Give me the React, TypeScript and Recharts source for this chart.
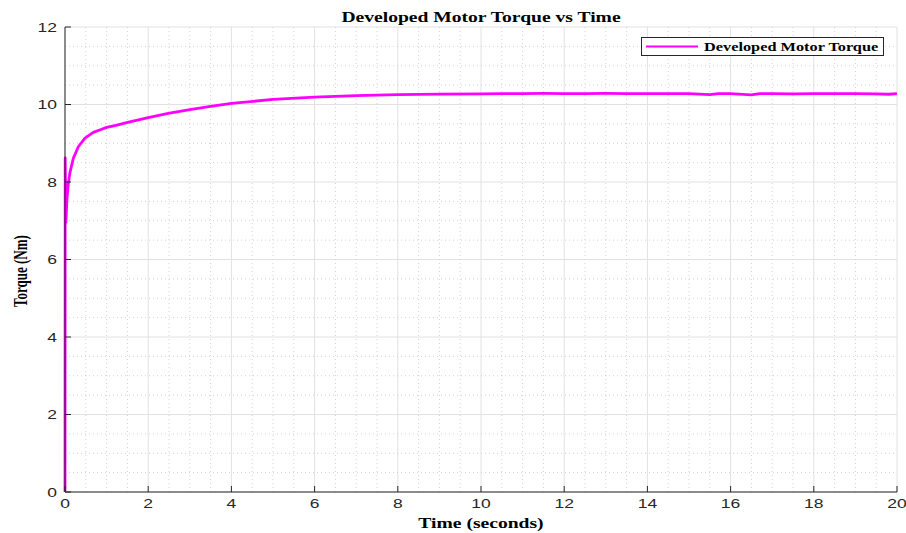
import React from 'react';
import { LineChart, Line, XAxis, YAxis, CartesianGrid, ReferenceLine } from 'recharts';

const time = [0, 0.005, 0.02, 0.05, 0.08, 0.12, 0.2, 0.32, 0.48, 0.68, 0.85, 1.0, 1.25, 1.48, 2.0, 2.48, 3.0, 3.5, 4.0, 5.0, 6.0, 7.0, 8.0, 9.0, 10.0, 10.5, 11.0, 11.5, 12.0, 12.5, 13.0, 13.5, 14.0, 14.5, 15.0, 15.5, 15.7, 16.0, 16.5, 16.7, 17.0, 17.5, 18.0, 18.5, 19.0, 19.5, 19.8, 20.0];
const torque = [0, 8.62, 6.95, 7.6, 7.96, 8.25, 8.61, 8.91, 9.13, 9.28, 9.35, 9.41, 9.47, 9.53, 9.66, 9.77, 9.87, 9.95, 10.03, 10.13, 10.19, 10.23, 10.255, 10.27, 10.275, 10.28, 10.28, 10.285, 10.28, 10.28, 10.285, 10.28, 10.28, 10.28, 10.28, 10.255, 10.28, 10.28, 10.25, 10.28, 10.28, 10.275, 10.28, 10.28, 10.28, 10.275, 10.265, 10.28];

const xTicks = [0, 2, 4, 6, 8, 10, 12, 14, 16, 18, 20];
const yTicks = [0, 2, 4, 6, 8, 10, 12];
const xMinor = [0.5, 1, 1.5, 2.5, 3, 3.5, 4.5, 5, 5.5, 6.5, 7, 7.5, 8.5, 9, 9.5, 10.5, 11, 11.5, 12.5, 13, 13.5, 14.5, 15, 15.5, 16.5, 17, 17.5, 18.5, 19, 19.5];
const yMinor = [0.5, 1, 1.5, 2.5, 3, 3.5, 4.5, 5, 5.5, 6.5, 7, 7.5, 8.5, 9, 9.5, 10.5, 11, 11.5];

const title = 'Developed Motor Torque vs Time';
const xLabel = 'Time (seconds)';
const yLabel = 'Torque (Nm)';
const seriesName = 'Developed Motor Torque';

const data = time.map((t, i) => ({ t, v: torque[i] }));

const AXIS = '#262626';
const serif = '"Liberation Serif", "Times New Roman", serif';
const sans = '"Liberation Sans", Arial, sans-serif';
const SX = 1.4;

const XTick = (props: any) => {
  const { x, y, payload } = props;
  return (
    <g transform={`translate(${x},${y})`}>
      <text transform={`scale(${SX},1)`} x={0} y={0} dy={-2} textAnchor="middle" dominantBaseline="hanging" fontFamily={sans} fontSize={12.5} fill={AXIS}>
        {payload.value}
      </text>
    </g>
  );
};

const YTick = (props: any) => {
  const { x, y, payload } = props;
  return (
    <g transform={`translate(${x},${y})`}>
      <text transform={`scale(${SX},1)`} x={0} y={0} dy={4.5} textAnchor="end" fontFamily={sans} fontSize={12.5} fill={AXIS}>
        {payload.value}
      </text>
    </g>
  );
};

export default function App() {
  return (
    <div style={{ position: 'absolute', left: 0, top: 0, width: 906, height: 533, background: '#fff' }}>
      <LineChart width={906} height={533} data={data} margin={{ top: 27, right: 9, bottom: 0, left: 0 }}>
        <CartesianGrid stroke="#e2e2e2" strokeWidth={1} horizontalValues={yTicks} verticalValues={xTicks} />
        {xMinor.map((x) => (
          <ReferenceLine key={'vx' + x} x={x} stroke="#d2d2d2" strokeDasharray="1 3" strokeWidth={1} />
        ))}
        {yMinor.map((y) => (
          <ReferenceLine key={'hy' + y} y={y} stroke="#d2d2d2" strokeDasharray="1 3" strokeWidth={1} />
        ))}
        <XAxis
          dataKey="t"
          type="number"
          domain={[0, 20]}
          ticks={xTicks}
          interval={0}
          height={41}
          stroke={AXIS}
          tickSize={-6}
          tickMargin={15}
          tick={<XTick />}
        />
        <XAxis
          xAxisId="top"
          orientation="top"
          dataKey="t"
          type="number"
          domain={[0, 20]}
          ticks={xTicks}
          interval={0}
          height={0}
          stroke={AXIS}
          tickSize={-6}
          tickFormatter={() => ''}
        />
        <YAxis
          type="number"
          domain={[0, 12]}
          ticks={yTicks}
          interval={0}
          width={65}
          stroke={AXIS}
          tickSize={-6}
          tickMargin={14}
          tick={<YTick />}
        />
        <YAxis
          yAxisId="right"
          orientation="right"
          type="number"
          domain={[0, 12]}
          ticks={yTicks}
          interval={0}
          width={0}
          stroke={AXIS}
          tickSize={-6}
          tickFormatter={() => ''}
        />
        <Line type="linear" dataKey="v" name={seriesName} stroke="#ff00ff" strokeWidth={2.8} strokeLinejoin="round" dot={false} isAnimationActive={false} />
      </LineChart>
      <svg width={906} height={533} style={{ position: 'absolute', left: 0, top: 0, pointerEvents: 'none' }}>
        <g transform={`translate(481,22) scale(${SX},1)`}>
          <text x={0} y={0} textAnchor="middle" fontFamily={serif} fontWeight="bold" fontSize={14} fill="#000">{title}</text>
        </g>
        <g transform={`translate(481,528) scale(${SX},1)`}>
          <text x={0} y={0} textAnchor="middle" fontFamily={serif} fontWeight="bold" fontSize={14} fill="#000">{xLabel}</text>
        </g>
        <g transform={`translate(27,271) scale(${SX},1) rotate(-90)`}>
          <text x={0} y={0} textAnchor="middle" fontFamily={serif} fontWeight="bold" fontSize={13} fill="#000">{yLabel}</text>
        </g>
        <rect x={641.5} y={37.5} width={242} height={18} fill="#fff" stroke={AXIS} strokeWidth={1} />
        <line x1={646} y1={46.5} x2={698} y2={46.5} stroke="#ff00ff" strokeWidth={2} />
        <g transform={`translate(704,50.5) scale(1.36,1)`}>
          <text x={0} y={0} textAnchor="start" fontFamily={serif} fontWeight="bold" fontSize={12} fill="#000">{seriesName}</text>
        </g>
      </svg>
    </div>
  );
}
